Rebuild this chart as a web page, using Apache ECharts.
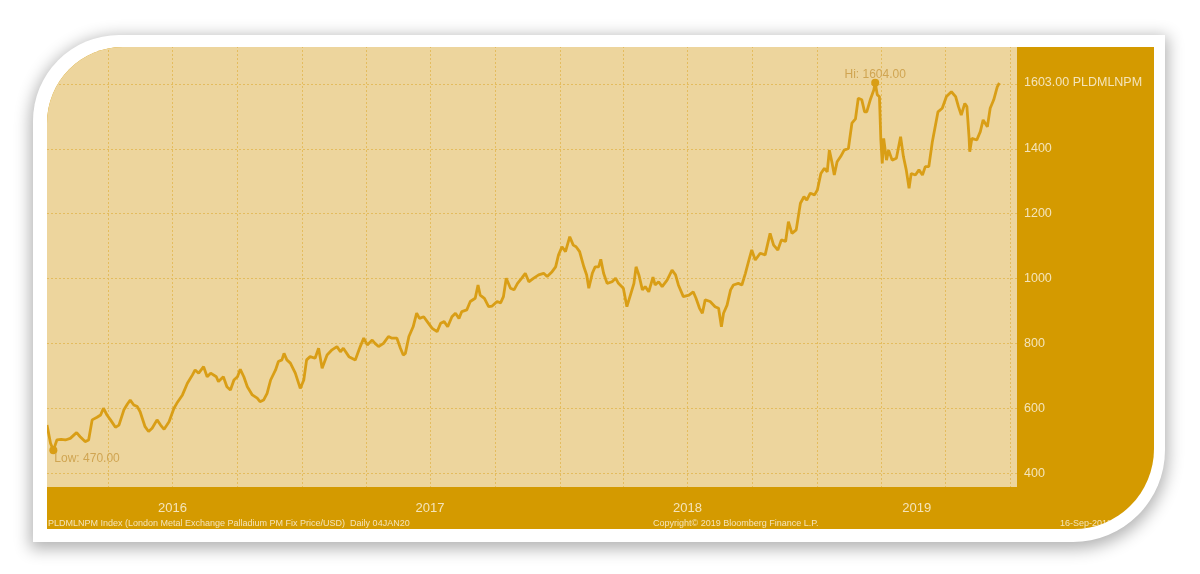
<!DOCTYPE html>
<html>
<head>
<meta charset="utf-8">
<script src="https://cdn.jsdelivr.net/npm/echarts@6/dist/echarts.min.js"></script>
<style>
  html, body { margin: 0; padding: 0; background: #ffffff; width: 1200px; height: 574px; overflow: hidden; }
  #frame { position: absolute; left: 33px; top: 35px; width: 1132px; height: 507px; background: #ffffff;
           border-radius: 86px 0 92px 0; box-shadow: 0 4px 16px 3px rgba(0,0,0,0.30); }
  #panel { position: absolute; left: 47px; top: 47px; width: 1107px; height: 482px; overflow: hidden;
           border-radius: 76px 0 80px 0; background: #D49A00; }
  #chart { position: absolute; left: -47px; top: -47px; width: 1200px; height: 574px; }
</style>
</head>
<body>
<div id="frame"></div>
<div id="panel"><div id="chart"></div></div>
<script>
// ---- data (London Metal Exchange Palladium PM Fix, USD/oz) ----
const dates2016 = ['2016-01-05','2016-01-10','2016-01-14','2016-01-19','2016-01-25','2016-01-31','2016-02-07','2016-02-12','2016-02-16','2016-02-21','2016-02-28','2016-03-04','2016-03-09','2016-03-16','2016-03-21','2016-03-25','2016-03-30','2016-04-04','2016-04-11','2016-04-16','2016-04-23','2016-04-28','2016-05-02','2016-05-07','2016-05-12','2016-05-16','2016-05-23','2016-05-28','2016-06-02','2016-06-09','2016-06-14','2016-06-19','2016-06-26','2016-07-03','2016-07-07','2016-07-15','2016-07-22','2016-07-29','2016-08-02','2016-08-07','2016-08-14','2016-08-19','2016-08-24','2016-09-01','2016-09-04','2016-09-11','2016-09-16','2016-09-21','2016-09-26','2016-10-01','2016-10-05','2016-10-10','2016-10-15','2016-10-22','2016-10-29','2016-11-02','2016-11-07','2016-11-12','2016-11-17','2016-11-24','2016-11-28','2016-12-03','2016-12-06','2016-12-10','2016-12-15','2016-12-22','2016-12-29'];
const prices2016 = [548,492,470,502,504,502,507,517,525,512,497,502,564,572,579,600,579,564,541,548,595,613,625,610,605,589,543,528,538,564,548,535,558,600,615,641,677,702,718,708,728,697,708,697,682,697,666,656,687,697,720,697,666,641,631,620,625,646,687,718,744,749,769,749,739,708,661];

const dates2017 = ['2017-01-03','2017-01-07','2017-01-12','2017-01-19','2017-01-24','2017-01-29','2017-02-05','2017-02-12','2017-02-19','2017-02-24','2017-02-28','2017-03-08','2017-03-17','2017-03-24','2017-03-29','2017-04-03','2017-04-10','2017-04-14','2017-04-19','2017-04-26','2017-05-03','2017-05-08','2017-05-15','2017-05-20','2017-05-24','2017-05-27','2017-06-01','2017-06-07','2017-06-12','2017-06-16','2017-06-22','2017-06-27','2017-07-04','2017-07-11','2017-07-16','2017-07-21','2017-07-26','2017-08-01','2017-08-06','2017-08-11','2017-08-15','2017-08-22','2017-08-27','2017-09-03','2017-09-07','2017-09-10','2017-09-16','2017-09-22','2017-09-27','2017-10-04','2017-10-09','2017-10-13','2017-10-17','2017-10-23','2017-10-28','2017-11-02','2017-11-08','2017-11-13','2017-11-18','2017-11-25','2017-12-02','2017-12-09','2017-12-14','2017-12-21','2017-12-26','2017-12-30'];
const prices2017 = [687,749,759,754,785,723,764,780,790,774,785,759,749,790,816,795,810,800,790,800,821,816,816,785,764,769,821,851,893,877,882,867,846,836,862,867,851,882,893,877,898,903,929,939,980,949,939,913,915,929,925,944,1001,970,965,985,1001,1016,990,1001,1011,1016,1006,1021,1036,1072];

const dates2018 = ['2018-01-04','2018-01-09','2018-01-15','2018-01-20','2018-01-24','2018-01-29','2018-02-04','2018-02-08','2018-02-11','2018-02-16','2018-02-20','2018-02-25','2018-02-28','2018-03-04','2018-03-09','2018-03-16','2018-03-21','2018-03-25','2018-04-01','2018-04-06','2018-04-11','2018-04-16','2018-04-19','2018-04-23','2018-04-28','2018-05-02','2018-05-07','2018-05-13','2018-05-16','2018-05-21','2018-05-26','2018-06-02','2018-06-09','2018-06-14','2018-06-18','2018-06-25','2018-07-03','2018-07-09','2018-07-13','2018-07-18','2018-07-22','2018-07-26','2018-08-02','2018-08-09','2018-08-14','2018-08-18','2018-08-21','2018-08-26','2018-08-31','2018-09-04','2018-09-11','2018-09-16','2018-09-21','2018-09-26','2018-09-30','2018-10-05','2018-10-12','2018-10-19','2018-10-26','2018-10-31','2018-11-06','2018-11-11','2018-11-17','2018-11-21','2018-11-26','2018-12-02','2018-12-08','2018-12-13','2018-12-17','2018-12-22','2018-12-28'];
const prices2018 = [1098,1083,1129,1103,1098,1083,1036,1011,970,1016,1036,1036,1059,1016,985,990,1001,985,970,913,949,985,1036,1011,965,975,959,1004,980,990,975,995,1026,1011,980,944,949,959,939,908,893,934,929,913,908,851,893,918,965,980,985,980,1016,1057,1088,1057,1078,1073,1139,1103,1088,1119,1114,1175,1139,1150,1232,1252,1242,1263,1258];

const dates2019 = ['2019-01-01','2019-01-06','2019-01-11','2019-01-15','2019-01-18','2019-01-22','2019-01-25','2019-01-29','2019-02-03','2019-02-08','2019-02-14','2019-02-19','2019-02-24','2019-02-28','2019-03-05','2019-03-09','2019-03-12','2019-03-17','2019-03-22','2019-03-24','2019-03-27','2019-03-30','2019-04-01','2019-04-03','2019-04-05','2019-04-09','2019-04-12','2019-04-17','2019-04-23','2019-04-29','2019-05-03','2019-05-07','2019-05-11','2019-05-14','2019-05-20','2019-05-25','2019-05-30','2019-06-03','2019-06-08','2019-06-13','2019-06-17','2019-06-21','2019-06-27','2019-07-03','2019-07-10','2019-07-16','2019-07-20','2019-07-24','2019-07-29','2019-08-01','2019-08-04','2019-08-05','2019-08-08','2019-08-15','2019-08-20','2019-08-24','2019-08-30','2019-09-03','2019-09-08','2019-09-13','2019-09-16'];
const prices2019 = [1273,1324,1340,1329,1396,1355,1319,1360,1376,1396,1401,1479,1492,1556,1551,1514,1514,1551,1581,1604,1566,1561,1427,1355,1432,1365,1396,1365,1371,1437,1376,1335,1278,1324,1319,1335,1319,1345,1345,1422,1468,1514,1525,1561,1576,1561,1530,1504,1540,1530,1437,1391,1432,1427,1453,1489,1468,1525,1551,1591,1603];

// axis ticks / labels
const xRange = ['2016-01-05', '2019-10-11'];
const quarterDates = ['2016-04-01','2016-07-01','2016-10-01','2017-01-01','2017-04-01','2017-07-01','2017-10-01','2018-01-01','2018-04-01','2018-07-01','2018-10-01','2019-01-01','2019-04-01','2019-07-01','2019-10-01'];
const yearLabelDates = ['2016-07-01','2017-07-01','2018-07-01','2019-05-22'];
const priceTicks = [400,600,800,1000,1200,1400,1600];
const priceLabels = [400,600,800,1000,1200,1400];
const tickerName = 'PLDMLNPM';

// ---- build ----
const ts = d => Date.UTC(+d.slice(0, 4), +d.slice(5, 7) - 1, +d.slice(8, 10));
const allDates = dates2016.concat(dates2017, dates2018, dates2019);
const allPrices = prices2016.concat(prices2017, prices2018, prices2019);
const seriesData = allDates.map((d, i) => [ts(d), allPrices[i]]);
const lastPrice = allPrices[allPrices.length - 1];

const LINE = '#D99E16';
const CREAM = '#F4E4BA';
const MUTED = '#D0A552';
const FONT = 'Liberation Sans';

const chart = echarts.init(document.getElementById('chart'), null, { renderer: 'canvas' });
chart.setOption({
  backgroundColor: 'transparent',
  animation: false,
  grid: { left: 47, top: 46, right: 183, bottom: 87, show: true, backgroundColor: '#EDD59D', borderWidth: 0, containLabel: false },
  xAxis: {
    type: 'value',
    min: ts(xRange[0]), max: ts(xRange[1]),
    axisLine: { show: false },
    axisTick: { show: false, customValues: quarterDates.map(ts) },
    splitLine: { show: true, lineStyle: { color: '#E4BC5E', width: 1, type: [2, 2] } },
    axisLabel: {
      customValues: yearLabelDates.map(ts),
      formatter: v => String(new Date(v).getUTCFullYear()),
      color: CREAM, fontFamily: FONT, fontSize: 13, margin: 15
    }
  },
  yAxis: {
    type: 'value', position: 'right',
    min: 357, max: 1717,
    axisLine: { show: false },
    axisTick: { show: false, customValues: priceTicks },
    splitLine: { show: true, lineStyle: { color: '#E4BC5E', width: 1, type: [2, 2] } },
    axisLabel: {
      customValues: priceLabels.concat([lastPrice]),
      formatter: v => (v === lastPrice ? v.toFixed(2) + ' ' + tickerName : String(v)),
      color: CREAM, fontFamily: FONT, fontSize: 12.5, margin: 7, padding: [3, 0, 0, 0]
    },
    name: 'Palladium Price $/oz',
    nameLocation: 'middle', nameRotate: -90, nameGap: 126,
    nameTextStyle: { color: CREAM, fontFamily: FONT, fontSize: 14 }
  },
  series: [{
    type: 'line',
    data: seriesData,
    showSymbol: false,
    lineStyle: { color: LINE, width: 2.8 },
    itemStyle: { color: LINE },
    markPoint: {
      symbol: 'circle', symbolSize: 8,
      itemStyle: { color: LINE },
      data: [
        { type: 'max', label: { show: true, formatter: p => 'Hi: ' + p.value.toFixed(2), position: [4, -4], align: 'center', verticalAlign: 'middle', color: MUTED, fontFamily: FONT, fontSize: 12 } },
        { type: 'min', label: { show: true, formatter: p => 'Low: ' + p.value.toFixed(2), position: [5, 12], align: 'left', verticalAlign: 'middle', color: MUTED, fontFamily: FONT, fontSize: 12 } }
      ]
    }
  }],
  graphic: [
    { type: 'text', left: 48, top: 519, style: { text: tickerName + ' Index (London Metal Exchange Palladium PM Fix Price/USD)  Daily 04JAN20', fill: CREAM, font: '9px "Liberation Sans"' } },
    { type: 'text', left: 653, top: 519, style: { text: 'Copyright\u00A9 2019 Bloomberg Finance L.P.', fill: CREAM, font: '9px "Liberation Sans"' } },
    { type: 'text', left: 1060, top: 519, style: { text: '16-Sep-2019', fill: CREAM, font: '9px "Liberation Sans"' } }
  ]
});
</script>
</body>
</html>
